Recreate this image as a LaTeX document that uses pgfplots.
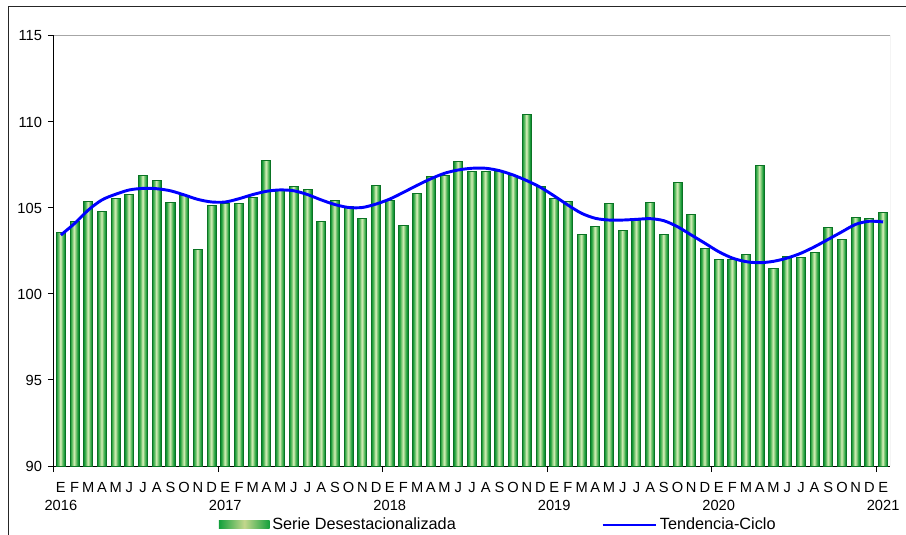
\documentclass[border=0pt]{standalone}
\usepackage{fontspec}
\setmainfont{Liberation Sans}
\usepackage{pgfplots}
\pgfplotsset{compat=1.18}
\usepackage{pgfplotstable}
\definecolor{barEdge}{RGB}{10,115,35}
\definecolor{barA}{RGB}{20,150,55}
\definecolor{barB}{RGB}{55,170,75}
\definecolor{barC}{RGB}{105,192,105}
\definecolor{barD}{RGB}{155,213,140}
\definecolor{barE}{RGB}{200,233,175}
\definecolor{legOuter}{RGB}{20,160,60}
\definecolor{legMid}{RGB}{195,215,140}
\definecolor{trendblue}{RGB}{0,0,255}
\newcommand\chartfont{\fontsize{11}{13.5}\selectfont}
\newcommand\legendfont{\fontsize{12.2}{14}\selectfont}

\pgfplotstableread{
idx val trend
0 103.60 103.43
1 104.20 104.10
2 105.35 104.88
3 104.80 105.47
4 105.56 105.80
5 105.78 106.05
6 106.88 106.14
7 106.61 106.12
8 105.31 106.00
9 105.72 105.76
10 102.58 105.50
11 105.17 105.35
12 105.27 105.35
13 105.25 105.54
14 105.62 105.78
15 107.77 105.97
16 106.00 106.05
17 106.26 106.00
18 106.10 105.78
19 104.23 105.47
20 105.45 105.20
21 105.08 105.03
22 104.40 105.03
23 106.28 105.23
24 105.45 105.52
25 104.00 105.91
26 105.83 106.32
27 106.84 106.70
28 106.90 107.02
29 107.71 107.21
30 107.13 107.31
31 107.15 107.31
32 107.13 107.17
33 106.90 106.92
34 110.45 106.59
35 106.26 106.20
36 105.56 105.70
37 105.39 105.17
38 103.47 104.69
39 103.90 104.40
40 105.27 104.30
41 103.70 104.30
42 104.26 104.34
43 105.31 104.38
44 103.47 104.26
45 106.47 103.91
46 104.63 103.43
47 102.65 102.95
48 101.98 102.46
49 102.02 102.09
50 102.31 101.88
51 107.48 101.82
52 101.49 101.90
53 102.19 102.09
54 102.13 102.37
55 102.44 102.75
56 103.84 103.18
57 103.18 103.62
58 104.46 104.05
59 104.40 104.23
60 104.71 104.19
}\data

\begin{document}
\begin{tikzpicture}
\begin{scope}[overlay]
\begin{axis}[
  scale only axis, width=627pt, height=322.5pt,
  xmin=-0.5, xmax=60.5, ymin=90, ymax=115,
  axis lines*=left,
  axis line style={line width=0.75pt, black},
  tick align=outside,
  ytick={90,95,...,115},
  major tick length=4.5pt,
  minor tick length=4.5pt,
  tick style={line width=0.75pt, black},
  xtick={0,...,60},
  major x tick style={draw=none},
  minor xtick={-0.5,11.5,23.5,35.5,47.5,59.5},
  xticklabels={{E\\2016},F,M,A,M,J,J,A,S,O,N,D,{E\\2017},F,M,A,M,J,J,A,S,O,N,D,{E\\2018},F,M,A,M,J,J,A,S,O,N,D,{E\\2019},F,M,A,M,J,J,A,S,O,N,D,{E\\2020},F,M,A,M,J,J,A,S,O,N,D,{E\\2021}},
  xticklabel style={align=center, font=\chartfont, inner xsep=0pt, yshift=-4.5pt},
  yticklabel style={font=\chartfont, xshift=-1pt},
  /pgf/number format/assume math mode=true,
  legend columns=2,
  legend style={draw=none, fill=none, font=\legendfont, at={(0.197,-0.137)}, anchor=west, inner sep=0pt,
    /tikz/every odd column/.append style={column sep=0pt},
    /tikz/every even column/.append style={column sep=107pt}},
]
\addplot[ybar, bar width=0.66, bar shift=0pt, fill=barA, draw=none, forget plot] table[x=idx,y=val]{\data};
\addplot[ybar, bar width=0.50, bar shift=0pt, fill=barB, draw=none, forget plot] table[x=idx,y=val]{\data};
\addplot[ybar, bar width=0.36, bar shift=0pt, fill=barC, draw=none, forget plot] table[x=idx,y=val]{\data};
\addplot[ybar, bar width=0.22, bar shift=0pt, fill=barD, draw=none, forget plot] table[x=idx,y=val]{\data};
\addplot[ybar, bar width=0.10, bar shift=0pt, fill=barE, draw=none, forget plot] table[x=idx,y=val]{\data};
\addplot[ybar, bar width=0.66, bar shift=0pt, fill=none, draw=barEdge, line width=0.75pt, forget plot] table[x=idx,y=val]{\data};
\addlegendimage{legend image code/.code={\draw[draw=none, left color=legOuter, right color=legOuter, middle color=legMid] (0pt,-3pt) rectangle (38pt,3pt);}}
\addlegendentry{Serie Desestacionalizada}
\addplot[trendblue, line width=2.2pt, smooth, mark=none,
  legend image code/.code={\draw[trendblue, line width=2pt] (0pt,0pt) -- (40pt,0pt);}]
  table[x=idx,y=trend]{\data};
\addlegendentry{Tendencia-Ciclo}
\draw[gray!70, line width=0.75pt] (rel axis cs:0,1) -- (rel axis cs:1,1) -- (rel axis cs:1,0);
\coordinate (BL) at (rel axis cs:0,0);
\end{axis}
\end{scope}
\useasboundingbox (BL) ++(-40.5pt,-51.75pt) rectangle ++(679.5pt,401.25pt);
\draw[line width=0.75pt, black!85] (BL) ++(-33.75pt,-51.75pt) -- ++(0pt,396pt) -- ++(672.75pt,0pt);
\end{tikzpicture}
\end{document}
